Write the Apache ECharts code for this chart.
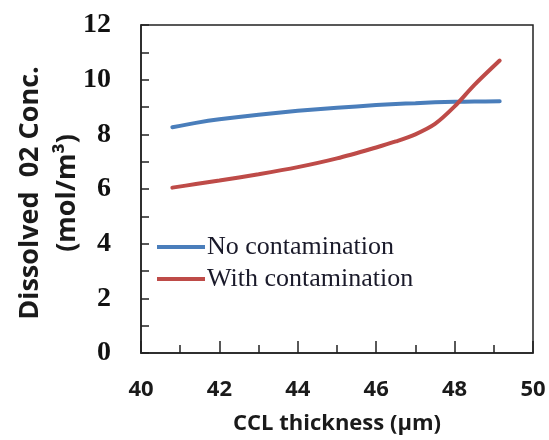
<!DOCTYPE html>
<html>
<head>
<meta charset="utf-8">
<script src="https://cdn.jsdelivr.net/npm/echarts@6/dist/echarts.min.js"></script>
<style>
  html, body { margin: 0; padding: 0; background: #fff; }
  #chart { width: 549px; height: 440px; }
</style>
</head>
<body>
<div id="chart"></div>
<script>
// CCL thickness (µm) sample points
const thickness = [40.8, 41.4, 42, 43, 44, 45, 46, 46.5, 47, 47.5, 48, 48.5, 49.15];
// Dissolved O2 concentration (mol/m3)
const noContamination   = [8.26, 8.42, 8.55, 8.72, 8.86, 8.97, 9.07, 9.11, 9.14, 9.17, 9.19, 9.20, 9.21];
const withContamination = [6.05, 6.18, 6.31, 6.54, 6.80, 7.12, 7.52, 7.74, 8.00, 8.38, 9.02, 9.80, 10.70];

const seriesNames = ['No contamination', 'With contamination'];
const xTicks = [40, 42, 44, 46, 48, 50];
const yTicks = [0, 2, 4, 6, 8, 10, 12];

const pairs = ys => thickness.map((x, i) => [x, ys[i]]);

const chart = echarts.init(document.getElementById('chart'), null, { renderer: 'canvas' });

chart.setOption({
  animation: false,
  backgroundColor: '#ffffff',
  grid: {
    left: 141, right: 16, top: 25, bottom: 78,
    show: true, borderColor: '#222', borderWidth: 1.5
  },
  legend: {
    orient: 'vertical',
    left: 152, top: 229,
    itemGap: 6,
    itemWidth: 48, itemHeight: 4,
    icon: 'rect',
    data: seriesNames,
    textStyle: {
      fontFamily: 'Liberation Serif', fontSize: 26, color: '#1a1a2a',
      padding: [0, 0, 0, -3]
    }
  },
  xAxis: {
    type: 'value',
    min: xTicks[0], max: xTicks[xTicks.length - 1], interval: 2,
    name: 'CCL thickness (μm)',
    nameLocation: 'middle', nameGap: 60,
    nameTextStyle: { fontFamily: 'Open Sans', fontWeight: 'bold', fontSize: 22, color: '#1a1a1a' },
    axisLine: { lineStyle: { color: '#222', width: 1.5 } },
    axisTick: { inside: true, length: 12, lineStyle: { color: '#222', width: 1.5 } },
    minorTick: { show: true, splitNumber: 2, length: 8, lineStyle: { color: '#222', width: 1.5 } },
    axisLabel: {
      margin: 26, fontFamily: 'Open Sans', fontWeight: 'bold', fontSize: 22, color: '#1a1a1a',
      formatter: v => xTicks.includes(v) ? String(v) : ''
    },
    splitLine: { show: false }
  },
  yAxis: {
    type: 'value',
    min: yTicks[0], max: yTicks[yTicks.length - 1], interval: 2,
    axisLine: { show: true, lineStyle: { color: '#222', width: 1.5 } },
    axisTick: { inside: true, length: 8, lineStyle: { color: '#222', width: 1.5 } },
    minorTick: { show: true, splitNumber: 2, length: 8, lineStyle: { color: '#222', width: 1.5 } },
    axisLabel: {
      margin: 30, fontFamily: 'Liberation Serif', fontWeight: 'bold', fontSize: 28, color: '#111',
      formatter: v => yTicks.includes(v) ? String(v) : ''
    },
    splitLine: { show: false }
  },
  graphic: [
    {
      type: 'text', x: 30, y: 193, rotation: Math.PI / 2,
      style: {
        text: 'Dissolved  02 Conc.', fontFamily: 'Open Sans', fontWeight: 'bold', fontSize: 27,
        fill: '#1a1a1a', align: 'center', verticalAlign: 'middle'
      }
    },
    {
      type: 'text', x: 67, y: 193, rotation: Math.PI / 2,
      style: {
        text: '(mol/m³)', fontFamily: 'Open Sans', fontWeight: 'bold', fontSize: 27,
        fill: '#1a1a1a', align: 'center', verticalAlign: 'middle'
      }
    }
  ],
  series: [
    {
      name: seriesNames[0], type: 'line', smooth: 0.3, showSymbol: false,
      data: pairs(noContamination),
      itemStyle: { color: '#4a7ebb' },
      lineStyle: { color: '#4a7ebb', width: 4, cap: 'round' }
    },
    {
      name: seriesNames[1], type: 'line', smooth: 0.3, showSymbol: false,
      data: pairs(withContamination),
      itemStyle: { color: '#be4b48' },
      lineStyle: { color: '#be4b48', width: 4, cap: 'round' }
    }
  ]
});
</script>
</body>
</html>
